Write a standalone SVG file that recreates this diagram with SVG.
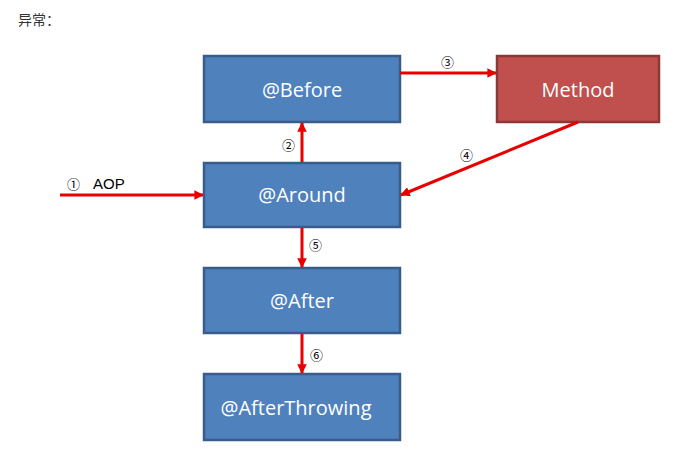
<svg xmlns="http://www.w3.org/2000/svg" width="692" height="463" viewBox="0 0 692 463">
<defs>
<style>
.box{fill:#4f81bd;stroke:#385d8a;stroke-width:2.5}
.red{fill:#c0504d;stroke:#8c3836;stroke-width:2.5}
.lbl{font-family:"Open Sans","Liberation Sans",sans-serif;font-size:20px;fill:#fff;text-anchor:middle}
.c{stroke:#e80000;stroke-width:3;fill:none;marker-end:url(#ah)}
.n{font-family:"Noto Sans CJK SC","DejaVu Sans",sans-serif;font-size:13px;fill:#000}
</style>
<marker id="ah" viewBox="0 0 10 10" refX="9" refY="5" markerWidth="3.2" markerHeight="3.2" orient="auto" markerUnits="strokeWidth">
<path d="M0,0 L10,5 L0,10 z" fill="#e80000"/>
</marker>
</defs>
<rect width="692" height="463" fill="#fff"/>
<text x="18" y="25" font-family="'Noto Sans CJK SC','Liberation Sans',sans-serif" font-size="14" fill="#333">异常：</text>
<g id="before"><rect class="box" x="204" y="56" width="196" height="66"/><text class="lbl" x="302" y="97">@Before</text></g>
<g id="method"><rect class="red" x="497" y="56" width="162" height="66"/><text class="lbl" x="578" y="97">Method</text></g>
<g id="around"><rect class="box" x="204" y="163" width="196" height="64"/><text class="lbl" x="302" y="202">@Around</text></g>
<g id="after"><rect class="box" x="204" y="268" width="196" height="65"/><text class="lbl" x="302" y="308">@After</text></g>
<g id="afterthrowing"><rect class="box" x="204" y="374" width="196" height="66"/><text class="lbl" x="296" y="415">@AfterThrowing</text></g>
<g id="connectors">
<line class="c" x1="60" y1="195" x2="203" y2="195"/>
<line class="c" x1="302" y1="162" x2="302" y2="123"/>
<line class="c" x1="400" y1="73" x2="496" y2="73"/>
<line class="c" x1="578" y1="122" x2="401" y2="195"/>
<line class="c" x1="302" y1="228" x2="302" y2="267"/>
<line class="c" x1="302" y1="334" x2="302" y2="373"/>
<text class="n" x="67" y="189">①</text>
<text x="93" y="189" font-family="'Liberation Sans',sans-serif" font-size="15" fill="#000">AOP</text>
<text class="n" x="282" y="150">②</text>
<text class="n" x="441" y="67">③</text>
<text class="n" x="460" y="160">④</text>
<text class="n" x="309" y="250">⑤</text>
<text class="n" x="310" y="360">⑥</text>
</g>
</svg>
